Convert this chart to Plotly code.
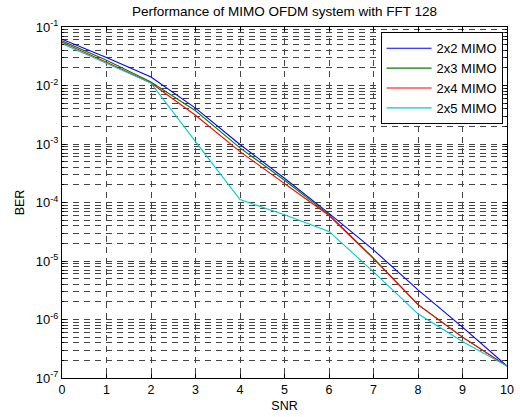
import plotly.graph_objects as go

snr = [0, 1, 2, 3, 4, 5, 6, 7, 8, 9, 10]
ber_2x2 = [0.062, 0.030, 0.014, 4.1e-3, 9.8e-4, 2.6e-4, 6.5e-5, 1.55e-5, 3.2e-6, 7.4e-7, 1.6e-7]
ber_2x3 = [0.058, 0.027, 0.0115, 3.7e-3, 8.6e-4, 2.4e-4, 6.2e-5, 1.12e-5, 1.8e-6, 5.0e-7, 1.6e-7]
ber_2x4 = [0.055, 0.025, 0.011, 3.1e-3, 7.4e-4, 2.1e-4, 6.0e-5, 1.1e-5, 1.8e-6, 5.0e-7, 1.6e-7]
ber_2x5 = [0.052, 0.024, 0.011, 1.1e-3, 1.12e-4, 6.2e-5, 3.2e-5, 6.5e-6, 1.25e-6, 4.2e-7, 1.6e-7]

names = ["2x2 MIMO", "2x3 MIMO", "2x4 MIMO", "2x5 MIMO"]
colors = ["#0000FF", "#008000", "#FF0000", "#00CCCC"]
series = [ber_2x2, ber_2x3, ber_2x4, ber_2x5]

ytick_vals = [1e-7, 1e-6, 1e-5, 1e-4, 1e-3, 1e-2, 1e-1]
ytick_text = ["10<sup>-7</sup>", "10<sup>-6</sup>", "10<sup>-5</sup>", "10<sup>-4</sup>",
              "10<sup>-3</sup>", "10<sup>-2</sup>", "10<sup>-1</sup>"]

fig = go.Figure()
for n, c, s in zip(names, colors, series):
    fig.add_trace(go.Scatter(x=snr, y=s, mode="lines", name=n,
                             line=dict(color=c, width=1.1)))

font = dict(family="Liberation Sans, Arial, sans-serif", size=12, color="black")
grid_dash = "6px,5px"
gcol = "#444444"

fig.update_layout(
    width=520, height=417,
    margin=dict(l=62, r=13, t=27, b=39, autoexpand=False),
    paper_bgcolor="white", plot_bgcolor="white",
    font=font,
    title=dict(text="Performance of MIMO OFDM system with FFT 128",
               x=0.5, xref="paper", xanchor="center",
               y=1 - 11 / 417, yref="container", yanchor="middle",
               font=dict(size=13.5)),
    legend=dict(x=0.99, y=0.985, xanchor="right", yanchor="top",
                bordercolor="black", borderwidth=1, bgcolor="white",
                font=dict(size=13), tracegroupgap=0, itemwidth=45),
    showlegend=True,
)

fig.update_xaxes(
    range=[0, 10], dtick=1, tick0=0, automargin=False,
    showline=True, linecolor="black", linewidth=1, mirror="allticks",
    ticks="inside", ticklen=4, tickcolor="black",
    showgrid=True, gridcolor=gcol, gridwidth=1, griddash=grid_dash,
    zeroline=False,
    tickfont=dict(size=12.5),
    title=dict(text="SNR", standoff=5, font=dict(size=12.5)),
)
fig.update_yaxes(
    type="log", range=[-7, -1], automargin=False,
    tickvals=ytick_vals, ticktext=ytick_text,
    showline=True, linecolor="black", linewidth=1, mirror="allticks",
    ticks="inside", ticklen=4, tickcolor="black",
    showgrid=True, gridcolor=gcol, gridwidth=1, griddash=grid_dash,
    zeroline=False,
    tickfont=dict(size=13),
    minor=dict(dtick="D1", ticks="inside", ticklen=2, tickcolor="black",
               showgrid=True, gridcolor=gcol, gridwidth=1, griddash=grid_dash),
    title=dict(text="BER", standoff=8, font=dict(size=12.5)),
)

fig.write_html("out.html")
